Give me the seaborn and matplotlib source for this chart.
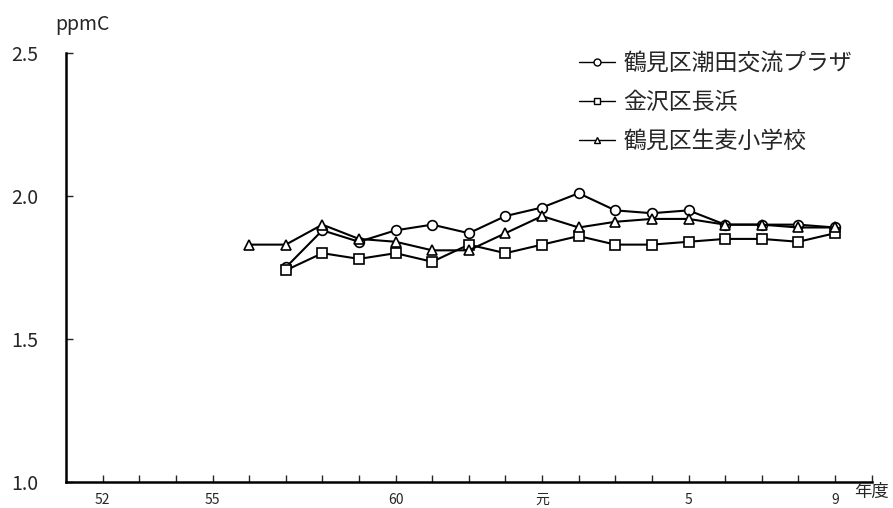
import numpy as np
import pandas as pd
import matplotlib
matplotlib.use("Agg")
import matplotlib.pyplot as plt
import seaborn as sns

# Showa years (64 = Heisei 元, 72 = Heisei 9)
years_a = [57, 58, 59, 60, 61, 62, 63, 64, 65, 66, 67, 68, 69, 70, 71, 72]
years_c = [56, 57, 58, 59, 60, 61, 62, 63, 64, 65, 66, 67, 68, 69, 70, 71, 72]

ushioda = [1.75, 1.88, 1.84, 1.88, 1.90, 1.87, 1.93, 1.96, 2.01, 1.95, 1.94, 1.95, 1.90, 1.90, 1.90, 1.89]
nagahama = [1.74, 1.80, 1.78, 1.80, 1.77, 1.83, 1.80, 1.83, 1.86, 1.83, 1.83, 1.84, 1.85, 1.85, 1.84, 1.87]
namamugi = [1.83, 1.83, 1.90, 1.85, 1.84, 1.81, 1.81, 1.87, 1.93, 1.89, 1.91, 1.92, 1.92, 1.90, 1.90, 1.89, 1.89]

labels = ["鶴見区潮田交流プラザ", "金沢区長浜", "鶴見区生麦小学校"]
tick_pos = [52, 55, 60, 64, 68, 72]
tick_labels = ["52", "55", "60", "元", "5", "9"]

sns.set_style("white")
plt.rcParams['font.family'] = ['Noto Sans CJK JP', 'DejaVu Sans']

fig = plt.figure(figsize=(8.93, 5.08), dpi=100)
ax = fig.add_axes([0.074, 0.052, 0.902, 0.843])

series = [(years_a, ushioda, "o"), (years_a, nagahama, "s"), (years_c, namamugi, "^")]
handles = []
for (xs, ys, mk), lab in zip(series, labels):
    df = pd.DataFrame({"year": xs, "value": ys})
    sns.lineplot(data=df, x="year", y="value", ax=ax, color="black", lw=1.5,
                 marker=mk, markersize=7, mfc="white", mec="black", mew=1.2)
    handles.append(plt.Line2D([], [], color="black", lw=1.0, marker=mk,
                              markersize=5, mfc="white", mec="black", label=lab))

ax.set_xlim(51, 73)
ax.set_ylim(1.0, 2.5)
ax.set_xticks(np.arange(52, 74))
ax.set_xticklabels([tick_labels[tick_pos.index(v)] if v in tick_pos else "" for v in range(52, 74)])
ax.set_yticks([1.0, 1.5, 2.0, 2.5])
ax.set_yticklabels(["1.0", "1.5", "2.0", "2.5"])
ax.tick_params(axis="x", direction="in", length=5, width=1, labelsize=10, pad=8, bottom=True)
ax.tick_params(axis="y", direction="in", length=5, width=1, labelsize=14, pad=20, left=True)
ax.set_xlabel("")
ax.set_ylabel("")
for s in ["top", "right"]:
    ax.spines[s].set_visible(False)
for s in ["left", "bottom"]:
    ax.spines[s].set_color("black")
    ax.spines[s].set_linewidth(1.8)

fig.text(0.062, 0.951, "ppmC", fontsize=14, ha="left", va="center")
fig.text(0.957, 0.031, "年度", fontsize=12.5, ha="left", va="center")

ax.legend(handles=handles, loc="upper left", bbox_to_anchor=(0.625, 0.939),
          bbox_transform=fig.transFigure, frameon=False, fontsize=16.5,
          handlelength=1.6, handletextpad=0.35, labelspacing=0.71)

fig.savefig("out.png", dpi=100)
